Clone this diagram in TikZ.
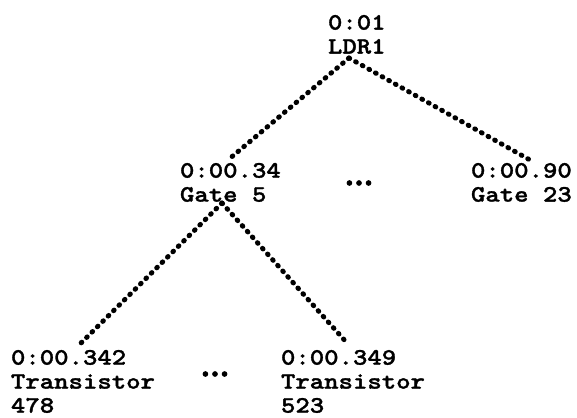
\documentclass[tikz,border=0pt]{standalone}
\usepackage{fontspec}
% heavy typewriter face for the labels, heavier dots for the elisions
\newfontfamily\labelfont{lmmonolt10-bold.otf}[FakeBold=1.2]
\newfontfamily\gapfont{lmroman10-bold.otf}[FakeBold=3]
\begin{document}
\begin{tikzpicture}[x=1bp,y=1bp,
  label/.style={inner sep=0pt, outer sep=0pt, anchor=north west, align=left,
    font=\labelfont\fontsize{23.5bp}{24bp}\selectfont,
    xscale=1.167, transform shape},
  gap/.style={inner sep=0pt, outer sep=0pt,
    font=\gapfont\fontsize{30bp}{30bp}\selectfont},
  link/.style={line width=5bp, line cap=round, dash pattern=on 0.8bp off 6.8bp}
]
\useasboundingbox (0,0) rectangle (577,417);

% timing tree: root, gates, transistors
\node[label] (ldr)  at (328,402) {0:01\\LDR1};
\node[label] (g5)   at (180,254) {0:00.34\\Gate 5};
\node[label] (g23)  at (471,254) {0:00.90\\Gate 23};
\node[label] (t478) at (11,67)   {0:00.342\\Transistor\\478};
\node[label] (t523) at (281,67)  {0:00.349\\Transistor\\523};

% elided siblings
\node[gap] (more1) at (359,234) {...};
\node[gap] (more2) at (215,43)  {...};

% attachment points of the links
\coordinate (ldr-foot)  at ([shift={(21,-43)}]ldr.north west);
\coordinate (g5-head)   at ([shift={(48,3)}]g5.north west);
\coordinate (g23-head)  at ([shift={(59,3)}]g23.north west);
\coordinate (g5-foot)   at ([shift={(42,-40)}]g5.north west);
\coordinate (t478-head) at ([shift={(67,4)}]t478.north west);
\coordinate (t523-head) at ([shift={(66,7)}]t523.north west);

\draw[link] (ldr-foot) -- (g5-head);
\draw[link] (ldr-foot) -- (g23-head);
\draw[link] (g5-foot) -- (t478-head);
\draw[link] (g5-foot) -- (t523-head);
\end{tikzpicture}
\end{document}
